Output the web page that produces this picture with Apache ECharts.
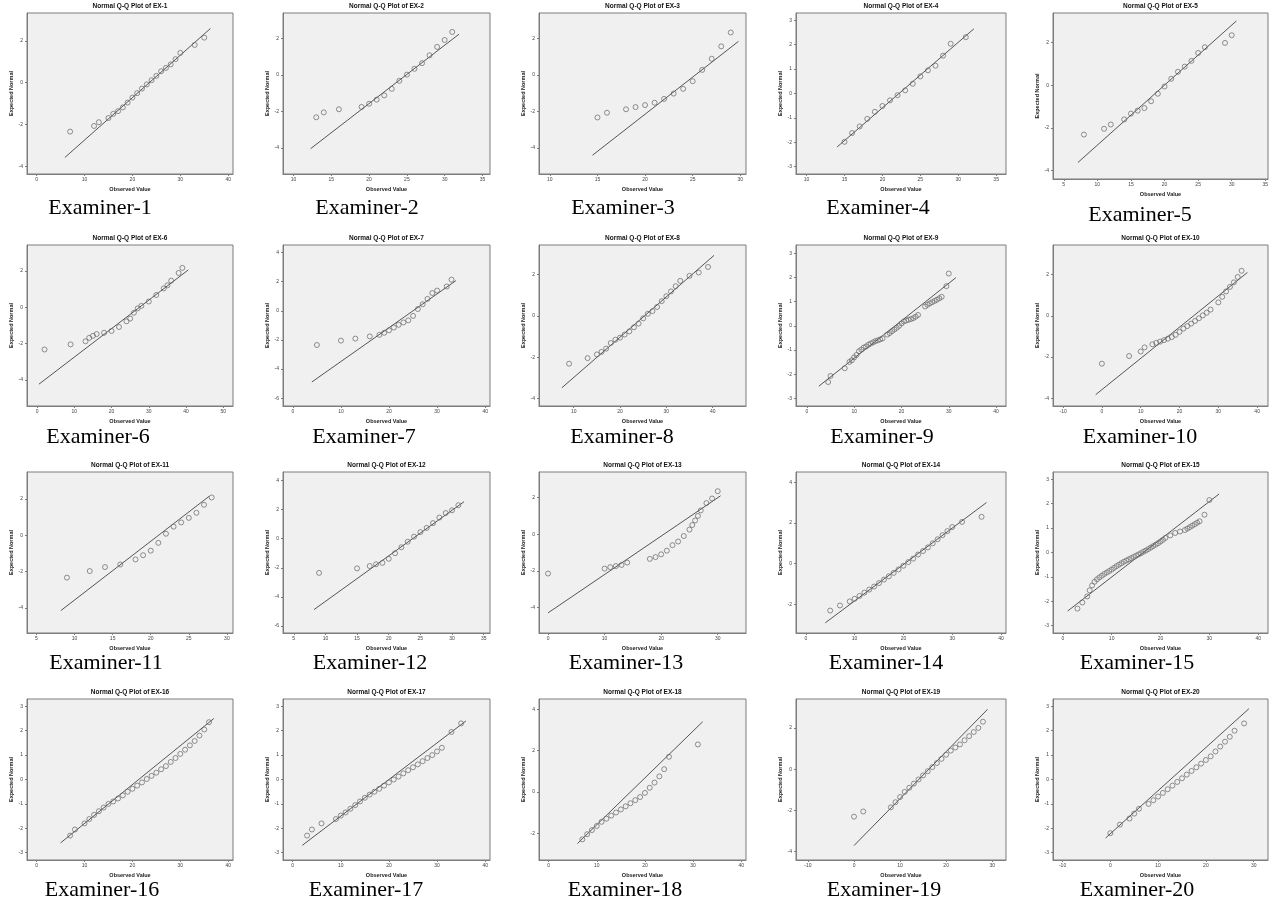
<!DOCTYPE html>
<html><head><meta charset="utf-8">
<script src="https://cdn.jsdelivr.net/npm/echarts@6/dist/echarts.min.js"></script>
<style>html,body{margin:0;padding:0;background:#fff}#c{width:1282px;height:907px}</style>
</head><body><div id="c"></div>
<script>
// ---------- DATA ----------
const panelTitles = ["Normal Q-Q Plot of EX-1","Normal Q-Q Plot of EX-2","Normal Q-Q Plot of EX-3","Normal Q-Q Plot of EX-4","Normal Q-Q Plot of EX-5","Normal Q-Q Plot of EX-6","Normal Q-Q Plot of EX-7","Normal Q-Q Plot of EX-8","Normal Q-Q Plot of EX-9","Normal Q-Q Plot of EX-10","Normal Q-Q Plot of EX-11","Normal Q-Q Plot of EX-12","Normal Q-Q Plot of EX-13","Normal Q-Q Plot of EX-14","Normal Q-Q Plot of EX-15","Normal Q-Q Plot of EX-16","Normal Q-Q Plot of EX-17","Normal Q-Q Plot of EX-18","Normal Q-Q Plot of EX-19","Normal Q-Q Plot of EX-20"];
const captions = ["Examiner-1","Examiner-2","Examiner-3","Examiner-4","Examiner-5","Examiner-6","Examiner-7","Examiner-8","Examiner-9","Examiner-10","Examiner-11","Examiner-12","Examiner-13","Examiner-14","Examiner-15","Examiner-16","Examiner-17","Examiner-18","Examiner-19","Examiner-20"];
const xAxisName = "Observed Value";
const yAxisName = "Expected Normal";

const obs1 = [7,12,13,15,16,17,18,19,20,21,22,23,24,25,26,27,28,29,30,33,35];
const exp1 = [-2.34,-2.07,-1.89,-1.69,-1.49,-1.36,-1.18,-0.95,-0.71,-0.50,-0.28,-0.08,0.12,0.33,0.55,0.71,0.88,1.13,1.43,1.81,2.16];
const fit1 = [[5.9,-3.58],[36.3,2.6]];
const obs2 = [13,14,16,19,20,21,22,23,24,25,26,27,28,29,30,31];
const exp2 = [-2.32,-2.05,-1.88,-1.75,-1.58,-1.35,-1.12,-0.76,-0.32,0.02,0.34,0.65,1.08,1.54,1.92,2.36];
const fit2 = [[12.26,-4.04],[31.9,2.24]];
const obs3 = [15,16,18,19,20,21,22,23,24,25,26,27,28,29];
const exp3 = [-2.33,-2.07,-1.88,-1.76,-1.65,-1.52,-1.31,-1.02,-0.76,-0.34,0.28,0.89,1.57,2.33];
const fit3 = [[14.48,-4.40],[29.8,1.84]];
const obs4 = [15,16,17,18,19,20,21,22,23,24,25,26,27,28,29,31];
const exp4 = [-1.98,-1.62,-1.35,-1.04,-0.75,-0.51,-0.28,-0.07,0.13,0.40,0.70,0.95,1.14,1.55,2.04,2.31];
const fit4 = [[14.03,-2.19],[32.06,2.65]];
const obs5 = [8,11,12,14,15,16,17,18,19,20,21,22,23,24,25,26,29,30];
const exp5 = [-2.31,-2.04,-1.84,-1.60,-1.33,-1.19,-1.07,-0.75,-0.40,-0.06,0.30,0.63,0.87,1.14,1.51,1.78,1.98,2.34];
const fit5 = [[7.1,-3.62],[30.7,3.01]];
const obs6 = [2,9,13,14,15,16,18,20,22,24,25,26,27,28,30,32,34,35,36,38,39];
const exp6 = [-2.32,-2.04,-1.87,-1.68,-1.57,-1.47,-1.40,-1.30,-1.08,-0.77,-0.62,-0.30,-0.06,0.08,0.32,0.68,1.04,1.21,1.47,1.89,2.17];
const fit6 = [[0.5,-4.23],[40.6,2.06]];
const obs7 = [5,10,13,16,18,19,20,21,22,23,24,25,26,27,28,29,30,32,33];
const exp7 = [-2.35,-2.05,-1.91,-1.76,-1.65,-1.51,-1.34,-1.15,-0.96,-0.80,-0.66,-0.35,0.12,0.45,0.82,1.22,1.39,1.67,2.14];
const fit7 = [[3.95,-4.89],[33.9,2.07]];
const obs8 = [9,13,15,16,17,18,19,20,21,22,23,24,25,26,27,28,29,30,31,32,33,35,37,39];
const exp8 = [-2.31,-2.04,-1.86,-1.74,-1.58,-1.31,-1.15,-1.05,-0.90,-0.75,-0.55,-0.37,-0.12,0.10,0.23,0.43,0.71,0.95,1.18,1.43,1.69,1.93,2.09,2.36];
const fit8 = [[7.44,-3.47],[40.3,2.92]];
const obs9 = [4.5,5,8,9,9.5,10,10.5,11,11.5,12,12.5,13,13.5,14,14.5,15,15.5,16,17,17.5,18,18.5,19,19.5,20,20.5,21,21.5,22,22.5,23,23.5,25,25.5,26,26.5,27,27.5,28,28.5,29.5,30];
const exp9 = [-2.32,-2.07,-1.75,-1.49,-1.42,-1.30,-1.20,-1.05,-0.98,-0.90,-0.85,-0.78,-0.73,-0.68,-0.63,-0.60,-0.56,-0.52,-0.36,-0.30,-0.22,-0.15,-0.08,0.0,0.10,0.18,0.22,0.25,0.28,0.32,0.38,0.45,0.80,0.87,0.93,0.98,1.03,1.08,1.14,1.20,1.64,2.16];
const fit9 = [[2.54,-2.49],[31.5,1.99]];
const obs10 = [0,7,10,11,13,14,15,16,17,18,19,20,21,22,23,24,25,26,27,28,30,31,32,33,34,35,36];
const exp10 = [-2.32,-1.95,-1.73,-1.53,-1.38,-1.31,-1.25,-1.18,-1.11,-1.03,-0.92,-0.78,-0.62,-0.50,-0.38,-0.25,-0.12,0.02,0.15,0.30,0.65,0.92,1.18,1.40,1.62,1.88,2.18];
const fit10 = [[-1.6,-3.82],[37.5,2.1]];
const obs11 = [9,12,14,16,18,19,20,21,22,23,24,25,26,27,28];
const exp11 = [-2.33,-1.97,-1.75,-1.61,-1.33,-1.10,-0.85,-0.42,0.08,0.47,0.70,0.95,1.23,1.67,2.07];
const fit11 = [[8.2,-4.14],[27.65,2.13]];
const obs12 = [9,15,17,18,19,20,21,22,23,24,25,26,27,28,29,30,31];
const exp12 = [-2.35,-2.04,-1.88,-1.76,-1.66,-1.38,-1.0,-0.59,-0.21,0.14,0.45,0.74,1.07,1.45,1.76,1.95,2.30];
const fit12 = [[8.2,-4.87],[31.9,2.54]];
const obs13 = [0,10,11,12,13,14,18,19,20,21,22,23,24,25,25.5,26,26.5,27,28,29,30];
const exp13 = [-2.15,-1.88,-1.80,-1.74,-1.68,-1.55,-1.35,-1.25,-1.1,-0.9,-0.6,-0.4,-0.1,0.25,0.5,0.75,1.0,1.3,1.7,1.95,2.35];
const fit13 = [[0,-4.3],[30.5,2.1]];
const obs14 = [5,7,9,10,11,12,13,14,15,16,17,18,19,20,21,22,23,24,25,26,27,28,29,30,32,36];
const exp14 = [-2.3,-2.05,-1.85,-1.72,-1.58,-1.42,-1.27,-1.12,-0.95,-0.78,-0.62,-0.45,-0.28,-0.10,0.08,0.25,0.45,0.62,0.80,1.0,1.2,1.4,1.6,1.8,2.05,2.3];
const fit14 = [[4,-2.9],[37,3.0]];
const obs15 = [3,4,5,5.5,6,6.5,7,7.5,8,8.5,9,9.5,10,10.5,11,11.5,12,12.5,13,13.5,14,14.5,15,15.5,16,16.5,17,17.5,18,18.5,19,19.5,20,20.5,21,22,23,24,25,25.5,26,26.5,27,27.5,28,29,30];
const exp15 = [-2.3,-2.05,-1.8,-1.55,-1.35,-1.2,-1.1,-1.02,-0.95,-0.88,-0.82,-0.76,-0.7,-0.63,-0.56,-0.5,-0.44,-0.38,-0.33,-0.28,-0.23,-0.18,-0.13,-0.08,-0.03,0.03,0.08,0.14,0.2,0.26,0.32,0.38,0.45,0.52,0.6,0.7,0.8,0.86,0.92,0.98,1.04,1.1,1.16,1.22,1.28,1.55,2.15];
const fit15 = [[1,-2.4],[32,2.4]];
const obs16 = [7,8,10,11,12,13,14,15,16,17,18,19,20,21,22,23,24,25,26,27,28,29,30,31,32,33,34,35,36];
const exp16 = [-2.3,-2.05,-1.8,-1.62,-1.45,-1.3,-1.15,-1.0,-0.9,-0.78,-0.65,-0.5,-0.38,-0.25,-0.12,0.02,0.15,0.28,0.42,0.55,0.72,0.88,1.05,1.22,1.4,1.58,1.8,2.05,2.35];
const fit16 = [[5,-2.6],[37,2.5]];
const obs17 = [3,4,6,9,10,11,12,13,14,15,16,17,18,19,20,21,22,23,24,25,26,27,28,29,30,31,33,35];
const exp17 = [-2.3,-2.05,-1.8,-1.62,-1.48,-1.35,-1.2,-1.05,-0.9,-0.75,-0.62,-0.5,-0.38,-0.25,-0.12,0.0,0.12,0.25,0.38,0.5,0.62,0.75,0.88,1.0,1.15,1.3,1.95,2.3];
const fit17 = [[2,-2.7],[36,2.4]];
const obs18 = [7,8,9,10,11,12,13,14,15,16,17,18,19,20,21,22,23,24,25,31];
const exp18 = [-2.3,-2.05,-1.85,-1.65,-1.45,-1.3,-1.15,-1.0,-0.85,-0.7,-0.55,-0.4,-0.25,-0.05,0.2,0.45,0.75,1.1,1.7,2.3];
const fit18 = [[6,-2.5],[32,3.4]];
const obs19 = [0,2,8,9,10,11,12,13,14,15,16,17,18,19,20,21,22,23,24,25,26,27,28];
const exp19 = [-2.3,-2.05,-1.85,-1.6,-1.35,-1.1,-0.9,-0.7,-0.5,-0.3,-0.1,0.1,0.3,0.5,0.7,0.9,1.05,1.2,1.4,1.6,1.8,2.0,2.3];
const fit19 = [[0,-3.7],[29,2.9]];
const obs20 = [0,2,4,5,6,8,9,10,11,12,13,14,15,16,17,18,19,20,21,22,23,24,25,26,28];
const exp20 = [-2.2,-1.85,-1.6,-1.4,-1.2,-1.0,-0.85,-0.7,-0.55,-0.4,-0.25,-0.1,0.05,0.2,0.35,0.5,0.65,0.8,0.95,1.15,1.35,1.55,1.75,2.0,2.3];
const fit20 = [[-1,-2.4],[29,2.9]];

// tick labels per panel
const xTicks1=[0,10,20,30,40], xTicks2=[10,15,20,25,30,35], xTicks3=[10,15,20,25,30], xTicks4=[10,15,20,25,30,35], xTicks5=[5,10,15,20,25,30,35];
const xTicks6=[0,10,20,30,40,50], xTicks7=[0,10,20,30,40], xTicks8=[10,20,30,40], xTicks9=[0,10,20,30,40], xTicks10=[-10,0,10,20,30,40];
const xTicks11=[5,10,15,20,25,30], xTicks12=[5,10,15,20,25,30,35], xTicks13=[0,10,20,30], xTicks14=[0,10,20,30,40], xTicks15=[0,10,20,30,40];
const xTicks16=[0,10,20,30,40], xTicks17=[0,10,20,30,40], xTicks18=[0,10,20,30,40], xTicks19=[-10,0,10,20,30], xTicks20=[-10,0,10,20,30];
const yTicksA=[-4,-2,0,2], yTicksB=[-3,-2,-1,0,1,2,3], yTicksC=[-6,-4,-2,0,2,4], yTicksD=[-2,0,2,4];

// ---------- scale ranges and layout (not data) ----------
const panels = [
 {obs:obs1,exp:exp1,fit:fit1,xt:xTicks1,yt:yTicksA,xr:[-2,41],yr:[-4.37,3.34]},
 {obs:obs2,exp:exp2,fit:fit2,xt:xTicks2,yt:yTicksA,xr:[8.6,36],yr:[-5.43,3.4]},
 {obs:obs3,exp:exp3,fit:fit3,xt:xTicks3,yt:yTicksA,xr:[8.86,30.6],yr:[-5.43,3.4]},
 {obs:obs4,exp:exp4,fit:fit4,xt:xTicks4,yt:yTicksB,xr:[8.6,36.3],yr:[-3.3,3.3]},
 {obs:obs5,exp:exp5,fit:fit5,xt:xTicks5,yt:yTicksA,xr:[3.4,35.4],yr:[-4.39,3.38]},
 {obs:obs6,exp:exp6,fit:fit6,xt:xTicks6,yt:yTicksA,xr:[-2.7,52.6],yr:[-5.43,3.43]},
 {obs:obs7,exp:exp7,fit:fit7,xt:xTicks7,yt:yTicksC,xr:[-2.05,41],yr:[-6.54,4.52]},
 {obs:obs8,exp:exp8,fit:fit8,xt:xTicks8,yt:yTicksA,xr:[2.5,47.2],yr:[-4.35,3.42]},
 {obs:obs9,exp:exp9,fit:fit9,xt:xTicks9,yt:yTicksB,xr:[-2.3,42.1],yr:[-3.31,3.34]},
 {obs:obs10,exp:exp10,fit:fit10,xt:xTicks10,yt:yTicksA,xr:[-12.6,42.8],yr:[-4.37,3.43]},
 {obs:obs11,exp:exp11,fit:fit11,xt:xTicks11,yt:yTicksA,xr:[3.76,30.8],yr:[-5.37,3.47]},
 {obs:obs12,exp:exp12,fit:fit12,xt:xTicks12,yt:yTicksC,xr:[3.3,36],yr:[-6.48,4.58]},
 {obs:obs13,exp:exp13,fit:fit13,xt:xTicks13,yt:yTicksA,xr:[-1.6,35],yr:[-5.4,3.4]},
 {obs:obs14,exp:exp14,fit:fit14,xt:xTicks14,yt:yTicksD,xr:[-2,41],yr:[-3.4,4.5]},
 {obs:obs15,exp:exp15,fit:fit15,xt:xTicks15,yt:yTicksB,xr:[-2,42],yr:[-3.3,3.3]},
 {obs:obs16,exp:exp16,fit:fit16,xt:xTicks16,yt:yTicksB,xr:[-2,41],yr:[-3.3,3.3]},
 {obs:obs17,exp:exp17,fit:fit17,xt:xTicks17,yt:yTicksB,xr:[-2,41],yr:[-3.3,3.3]},
 {obs:obs18,exp:exp18,fit:fit18,xt:xTicks18,yt:yTicksD,xr:[-2,41],yr:[-3.3,4.5]},
 {obs:obs19,exp:exp19,fit:fit19,xt:xTicks19,yt:yTicksA,xr:[-12.6,33],yr:[-4.4,3.4]},
 {obs:obs20,exp:exp20,fit:fit20,xt:xTicks20,yt:yTicksB,xr:[-12,33],yr:[-3.3,3.3]}
];
const colLeft = [27, 283, 539, 796, 1053];
const colWidth = [206, 207, 207, 210, 215];
const rowTop = [13, 245, 472, 699];
const rowHeight = 161;
const captionX = [100,367,623,878,1140, 98,364,622,882,1140, 106,370,626,886,1137, 102,366,625,884,1137];
const captionMidY = [208, 437, 663, 890];

const titles = [], grids = [], xAxes = [], yAxes = [], series = [];
panels.forEach((p, i) => {
  const r = Math.floor(i / 5), c = i % 5;
  const left = colLeft[c], top = rowTop[r], w = colWidth[c];
  const h = (r === 0 && c === 4) ? rowHeight + 5 : rowHeight;
  const capY = (r === 0 && c === 4) ? captionMidY[r] + 7 : captionMidY[r];
  grids.push({left: left, top: top, width: w, height: h, show: true,
    backgroundColor: '#f0f0f0', borderColor: '#7d7d7d', borderWidth: 1});
  titles.push({text: panelTitles[i], left: left + w / 2, top: top - 10, textAlign: 'center', padding: 0,
    textStyle: {fontSize: 6.5, fontWeight: 'bold', color: '#111', fontFamily: 'Liberation Sans'}});
  titles.push({text: captions[i], left: captionX[i], top: capY - 11, textAlign: 'center', padding: 0,
    textStyle: {fontSize: 22, fontWeight: 'normal', color: '#000', fontFamily: 'Liberation Serif'}});
  const axisCommon = {
    type: 'value', gridIndex: i, splitLine: {show: false},
    axisLine: {show: true, onZero: false, lineStyle: {color: '#7d7d7d', width: 1}},
    nameLocation: 'middle',
    nameTextStyle: {fontSize: 5.5, fontWeight: 'bold', color: '#222', fontFamily: 'Liberation Sans'}
  };
  xAxes.push(Object.assign({}, axisCommon, {
    min: p.xr[0], max: p.xr[1], name: xAxisName, nameGap: 12,
    axisTick: {show: true, length: 2, customValues: p.xt, lineStyle: {color: '#7d7d7d'}},
    axisLabel: {customValues: p.xt, fontSize: 5, color: '#444', margin: 3, fontFamily: 'Liberation Sans'}
  }));
  yAxes.push(Object.assign({}, axisCommon, {
    min: p.yr[0], max: p.yr[1], name: yAxisName, nameGap: 13,
    axisTick: {show: true, length: 2, customValues: p.yt, lineStyle: {color: '#7d7d7d'}},
    axisLabel: {customValues: p.yt, fontSize: 5, color: '#444', margin: 4, fontFamily: 'Liberation Sans'}
  }));
  series.push({type: 'line', xAxisIndex: i, yAxisIndex: i, data: p.fit, symbol: 'none', silent: true,
    lineStyle: {color: '#555', width: 1}, z: 2});
  series.push({type: 'scatter', xAxisIndex: i, yAxisIndex: i, silent: true, z: 3,
    data: p.obs.map((x, k) => [x, p.exp[k]]), symbol: 'circle', symbolSize: 5,
    itemStyle: {color: 'rgba(0,0,0,0)', borderColor: '#666', borderWidth: 0.9}});
});

const chart = echarts.init(document.getElementById('c'), null, {renderer: 'canvas'});
chart.setOption({animation: false, backgroundColor: '#fff', title: titles, grid: grids,
  xAxis: xAxes, yAxis: yAxes, series: series});
</script></body></html>
